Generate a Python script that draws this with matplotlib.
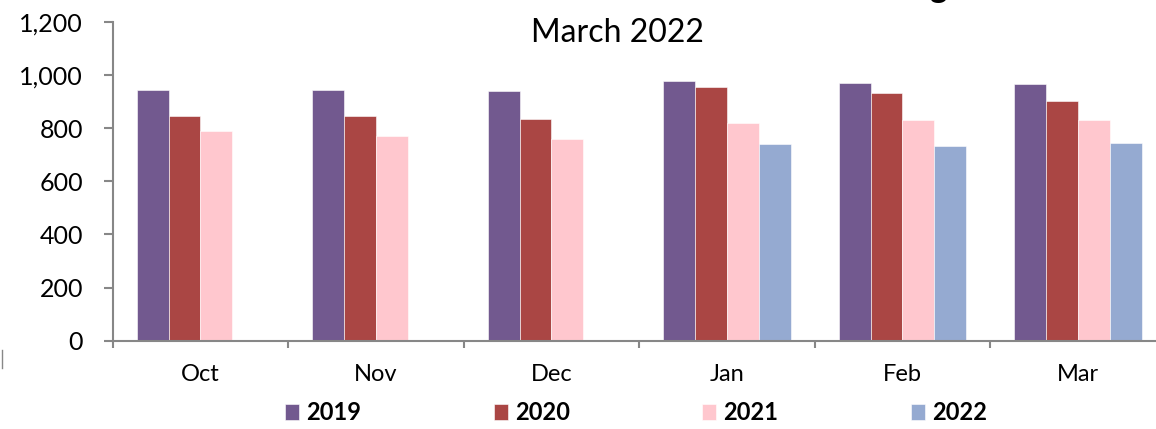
import numpy as np
import matplotlib.pyplot as plt
from matplotlib.ticker import FuncFormatter
from matplotlib.lines import Line2D

plt.rcParams['font.family'] = ['Lato', 'DejaVu Sans']

# Data
months = ["Oct", "Nov", "Dec", "Jan", "Feb", "Mar"]
years = ["2019", "2020", "2021", "2022"]
v2019 = [944, 943, 939, 977, 969, 968]
v2020 = [847, 847, 834, 954, 931, 904]
v2021 = [790, 771, 760, 820, 832, 831]
v2022 = [np.nan, np.nan, np.nan, 741, 733, 745]

colors = ["#72598F", "#AA4644", "#FFC7CE", "#95AAD1"]

fig = plt.figure(figsize=(11.56, 4.29), dpi=100)
# axis runs a bit past the right edge, like the cropped original
ax = fig.add_axes([112.7 / 1156, 88.3 / 429, 1053 / 1156, 318.7 / 429])

x = np.arange(len(months))
w = 1 / 5.5
series = [v2019, v2020, v2021, v2022]
handles = []
for j, (vals, c) in enumerate(zip(series, colors)):
    b = ax.bar(x + (j - 1.5) * w, vals, width=w, color=c, edgecolor="white",
               linewidth=0.4, label=years[j])
    handles.append(b)

ax.set_xlim(-0.5, len(months) - 0.5)
ax.set_ylim(0, 1200)
ax.set_yticks(range(0, 1201, 200))
ax.yaxis.set_major_formatter(FuncFormatter(lambda v, p: f"{int(v):,}"))

# ticks at the category boundaries, labels at the centres
ax.set_xticks(np.arange(-0.5, len(months), 1))
ax.set_xticklabels([])
ax.set_xticks(x, minor=True)
ax.set_xticklabels(months, minor=True)

gray = "#878787"
for s in ["top", "right"]:
    ax.spines[s].set_visible(False)
for s in ["left", "bottom"]:
    ax.spines[s].set_color(gray)
    ax.spines[s].set_linewidth(1.5)

ax.tick_params(axis="y", which="major", direction="out", length=6.3, width=1.5,
               color=gray, labelsize=18, pad=15)
ax.tick_params(axis="x", which="major", direction="out", length=5, width=1.5,
               color=gray)
ax.tick_params(axis="x", which="minor", length=0, labelsize=17, pad=17)

# title (first line is cut off by the top edge in the original)
fig.text(938 / 1156, 1.004, "g", ha="center", va="baseline", fontsize=24,
         fontweight="bold")
fig.text(617 / 1156, 1 - 33 / 429, "March 2022", ha="center", va="center",
         fontsize=23)

fig.legend(handles=handles, labels=years, loc="center", ncol=4,
           bbox_to_anchor=(636 / 1156, 16 / 429), frameon=False,
           prop={"weight": "bold", "size": 17}, handlelength=0.6,
           handleheight=0.64, handletextpad=0.3, columnspacing=5.6)

fig.add_artist(Line2D([2 / 1156, 2 / 1156], [1 - 350 / 429, 1 - 368 / 429],
                      color="#888888", linewidth=1))

plt.savefig("out.png", dpi=100)
